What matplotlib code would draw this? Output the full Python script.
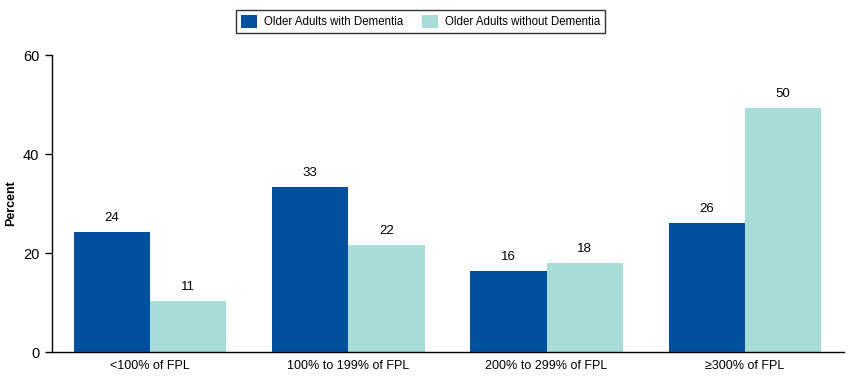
import numpy as np
import matplotlib
matplotlib.use("Agg")
import matplotlib.pyplot as plt

plt.rcParams['font.family'] = ['Liberation Sans Narrow', 'Liberation Sans', 'DejaVu Sans']

categories = ["<100% of FPL", "100% to 199% of FPL", "200% to 299% of FPL", "\u2265300% of FPL"]
with_dementia = [24.2, 33.3, 16.3, 26.0]
without_dementia = [10.3, 21.6, 18.0, 49.3]
with_labels = ["24", "33", "16", "26"]
without_labels = ["11", "22", "18", "50"]

dark = "#00509E"
light = "#A8DCD8"

fig = plt.figure(figsize=(8.5, 3.77), dpi=100)
ax = fig.add_axes([0.061, 0.066, 0.932, 0.788])

x = np.arange(len(categories))
w = 0.385
b1 = ax.bar(x - w / 2, with_dementia, w, color=dark, label="Older Adults with Dementia")
b2 = ax.bar(x + w / 2, without_dementia, w, color=light, label="Older Adults without Dementia")

for bars, labs in [(b1, with_labels), (b2, without_labels)]:
    for r, lab in zip(bars, labs):
        ax.annotate(lab, (r.get_x() + r.get_width() / 2, r.get_height()),
                    xytext=(0, 6), textcoords="offset points",
                    ha="center", va="bottom", fontsize=9.5)

ax.set_xlim(-0.495, 3.5)
ax.set_ylim(0, 60)
ax.set_yticks([0, 20, 40, 60])
ax.set_xticks(x)
ax.set_xticklabels(categories, fontsize=9)
ax.tick_params(axis="x", length=0, pad=6)
ax.tick_params(axis="y", labelsize=10.5, length=5, width=1, pad=4)
ax.set_ylabel("Percent", fontsize=9, fontweight="bold", labelpad=4)

for s in ["top", "right"]:
    ax.spines[s].set_visible(False)
ax.spines["left"].set_linewidth(1)
ax.spines["bottom"].set_linewidth(1)

leg = fig.legend(loc="upper center", bbox_to_anchor=(0.495, 0.99), ncol=2,
                 frameon=True, fancybox=False, edgecolor="black", fontsize=8.3,
                 handlelength=1.4, handleheight=1.4, columnspacing=1.6,
                 handletextpad=0.6, borderpad=0.45)
leg.get_frame().set_linewidth(1)

fig.savefig("out.png", dpi=100)
